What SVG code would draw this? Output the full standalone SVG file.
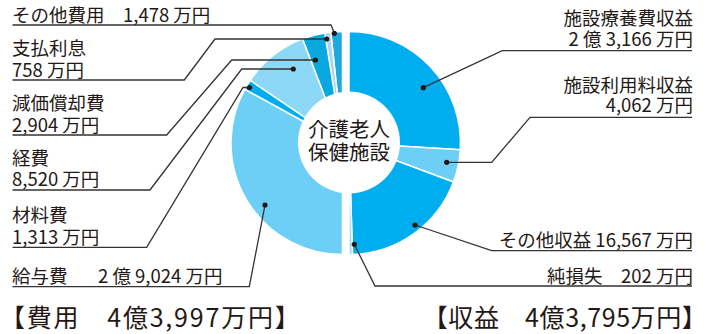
<svg xmlns="http://www.w3.org/2000/svg" width="708" height="334" viewBox="0 0 708 334">
<style>
text { font-family: "Noto Sans CJK JP", "Noto Sans", sans-serif; fill: #231815; }
.lbl { font-size: 18.5px; }
.big { font-size: 25px; }
.ctr { font-size: 20.5px; text-anchor: middle; }
.r { text-anchor: end; }
.seg { stroke: #ffffff; stroke-width: 1.5; stroke-linejoin: round; }
.ld { fill: none; stroke: #333333; stroke-width: 1.3; }
.dot { fill: #231815; }
</style>
<rect width="708" height="334" fill="#ffffff"/>

<g id="exp-other">
  <path class="seg" fill="#1da9dc" d="M342.5,143 L342.5,31.5 A111.5,111.5 0 0 0 330.76,32.12 Z"/>
  <text class="lbl" x="12" y="21.5">その他費用　1,478 万円</text>
</g>
<g id="exp-interest">
  <path class="seg" fill="#a9d7ec" d="M342.5,143 L330.76,32.12 A111.5,111.5 0 0 0 324.77,32.92 Z"/>
  <text class="lbl" x="12" y="55">支払利息<tspan x="12" y="77">758 万円</tspan></text>
</g>
<g id="exp-depreciation">
  <path class="seg" fill="#0aa8e0" d="M342.5,143 L324.77,32.92 A111.5,111.5 0 0 0 302.49,38.92 Z"/>
  <text class="lbl" x="12" y="110">減価償却費<tspan x="12" y="131.5">2,904 万円</tspan></text>
</g>
<g id="exp-expenses">
  <path class="seg" fill="#8dd7f7" d="M342.5,143 L302.49,38.92 A111.5,111.5 0 0 0 250.19,80.46 Z"/>
  <text class="lbl" x="12" y="164.5">経費<tspan x="12" y="186">8,520 万円</tspan></text>
</g>
<g id="exp-materials">
  <path class="seg" fill="#00aeef" d="M342.5,143 L250.19,80.46 A111.5,111.5 0 0 0 244.73,89.39 Z"/>
  <text class="lbl" x="12" y="222">材料費<tspan x="12" y="243.5">1,313 万円</tspan></text>
</g>
<g id="exp-salary">
  <path class="seg" fill="#6dcff6" d="M342.5,143 L244.73,89.39 A111.5,111.5 0 0 0 342.5,254.5 Z"/>
  <text class="lbl" x="12" y="283">給与費　<tspan dx="12">2 億 9,024 万円</tspan></text>
</g>

<g id="rev-care">
  <path class="seg" fill="#00aeef" d="M349,143 L349,31.5 A111.5,111.5 0 0 1 460.29,149.81 Z"/>
  <text class="lbl r" x="693" y="24.5">施設療養費収益<tspan x="693" y="45.5">2 億 3,166 万円</tspan></text>
</g>
<g id="rev-usage">
  <path class="seg" fill="#6dcff6" d="M349,143 L460.29,149.81 A111.5,111.5 0 0 1 453.44,182.05 Z"/>
  <text class="lbl r" x="693" y="91.7">施設利用料収益<tspan x="693" y="112">4,062 万円</tspan></text>
</g>
<g id="rev-other">
  <path class="seg" fill="#00aeef" d="M349,143 L453.44,182.05 A111.5,111.5 0 0 1 352.5,254.45 Z"/>
  <text class="lbl r" x="693" y="247">その他収益 16,567 万円</text>
</g>
<g id="rev-loss">
  <path class="seg" fill="#9ad9f5" d="M349,143 L352.5,254.45 A111.5,111.5 0 0 1 349,254.5 Z"/>
  <text class="lbl r" x="693" y="282.8">純損失　202 万円</text>
</g>

<g id="center">
  <circle cx="349" cy="142.5" r="51" fill="#ffffff"/>
  <text class="ctr" x="349" y="137">介護老人<tspan x="349" y="160.3">保健施設</tspan></text>
</g>

<g id="totals">
  <text class="big" x="0" y="327" letter-spacing="1.8">【費用　4億3,997万円】</text>
  <text class="big" x="422.7" y="327" letter-spacing="0.6">【収益　4億3,795万円】</text>
</g>

<g id="connectors">
  <path class="ld" d="M12.5,25 H331 L334.3,33.3"/>
  <path class="ld" d="M326.7,39 H215 L184.3,80 H12.5"/>
  <path class="ld" d="M315.5,60 H231.7 L166.7,135 H12.5"/>
  <path class="ld" d="M293.3,69 H241.7 L150,190 H12.5"/>
  <path class="ld" d="M249.5,87.5 H243 L146.7,247.3 H12.5"/>
  <path class="ld" d="M265,205 L249.3,286.7 H12.5"/>
  <path class="ld" d="M423.3,87.7 L502.3,50.7 H692"/>
  <path class="ld" d="M446.7,162.3 H491.7 L530,117.3 H692"/>
  <path class="ld" d="M415,225 L491.7,250.7 H692"/>
  <path class="ld" d="M354.3,244.3 L375,286 H692"/>
  <circle class="dot" cx="334.3" cy="33.3" r="2.6"/>
  <circle class="dot" cx="326.7" cy="39" r="2.6"/>
  <circle class="dot" cx="315.5" cy="60" r="2.6"/>
  <circle class="dot" cx="293.3" cy="69" r="2.6"/>
  <circle class="dot" cx="249.5" cy="87.5" r="2.6"/>
  <circle class="dot" cx="265" cy="205" r="2.6"/>
  <circle class="dot" cx="423.3" cy="87.7" r="2.6"/>
  <circle class="dot" cx="446.7" cy="162.3" r="2.6"/>
  <circle class="dot" cx="415" cy="225" r="2.6"/>
  <circle class="dot" cx="354.3" cy="244.3" r="2.6"/>
</g>
</svg>
